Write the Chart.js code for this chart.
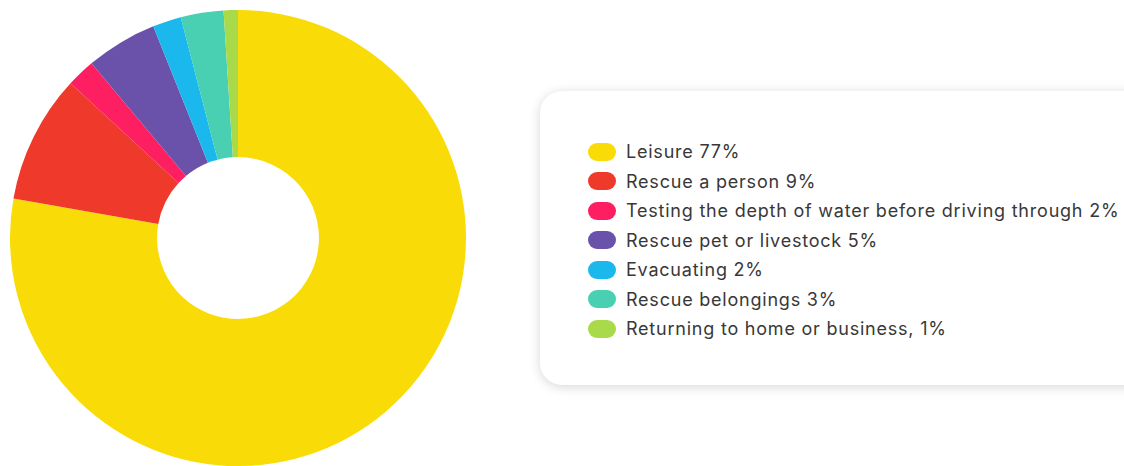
<!DOCTYPE html>
<html>
<head>
<meta charset="utf-8">
<script src="https://cdn.jsdelivr.net/npm/chart.js@4/dist/chart.umd.min.js"></script>
<style>
  html, body { margin: 0; padding: 0; background: #fff; width: 1124px; height: 466px; overflow: hidden; }
  #wrap { position: absolute; left: 10px; top: 10px; width: 456px; height: 456px; }
  #legend {
    position: absolute; left: 540px; top: 91px; width: 620px; height: 294px;
    background: #fff; border-radius: 22px;
    box-shadow: 0 2px 12px rgba(0,0,0,0.16);
    box-sizing: border-box; padding-top: 46px; padding-left: 48px;
    font-family: "Inter", "Noto Sans", sans-serif; font-size: 18px; letter-spacing: 0.78px; color: #383838;
  }
  .item { height: 29.5px; display: flex; align-items: center; white-space: nowrap; }
  .sw { width: 28px; height: 18px; border-radius: 9px; margin-right: 10px; flex: none; }
</style>
</head>
<body>
<div id="wrap"><canvas id="c"></canvas></div>
<div id="legend"></div>
<script>
const labels = [
  "Leisure 77%",
  "Rescue a person 9%",
  "Testing the depth of water before driving through 2%",
  "Rescue pet or livestock 5%",
  "Evacuating 2%",
  "Rescue belongings 3%",
  "Returning to home or business, 1%"
];
const values = [77, 9, 2, 5, 2, 3, 1];
const colors = ["#F9DC07", "#EF3A2B", "#FE1E62", "#6A52AA", "#1AB8EC", "#49CFB2", "#A9DA49"];

const chart = new Chart(document.getElementById('c'), {
  type: 'doughnut',
  data: {
    labels: labels,
    datasets: [{ data: values, backgroundColor: colors, borderWidth: 0, hoverOffset: 0 }]
  },
  options: {
    responsive: true,
    maintainAspectRatio: false,
    animation: false,
    cutout: '35.5%',
    layout: { padding: 0 },
    plugins: { legend: { display: false }, tooltip: { enabled: false } }
  }
});

const legendEl = document.getElementById('legend');
chart.options.plugins.legend.labels.generateLabels(chart).forEach(item => {
  const row = document.createElement('div');
  row.className = 'item';
  const sw = document.createElement('span');
  sw.className = 'sw';
  sw.style.background = item.fillStyle;
  const tx = document.createElement('span');
  tx.textContent = item.text;
  row.appendChild(sw);
  row.appendChild(tx);
  legendEl.appendChild(row);
});
</script>
</body>
</html>
